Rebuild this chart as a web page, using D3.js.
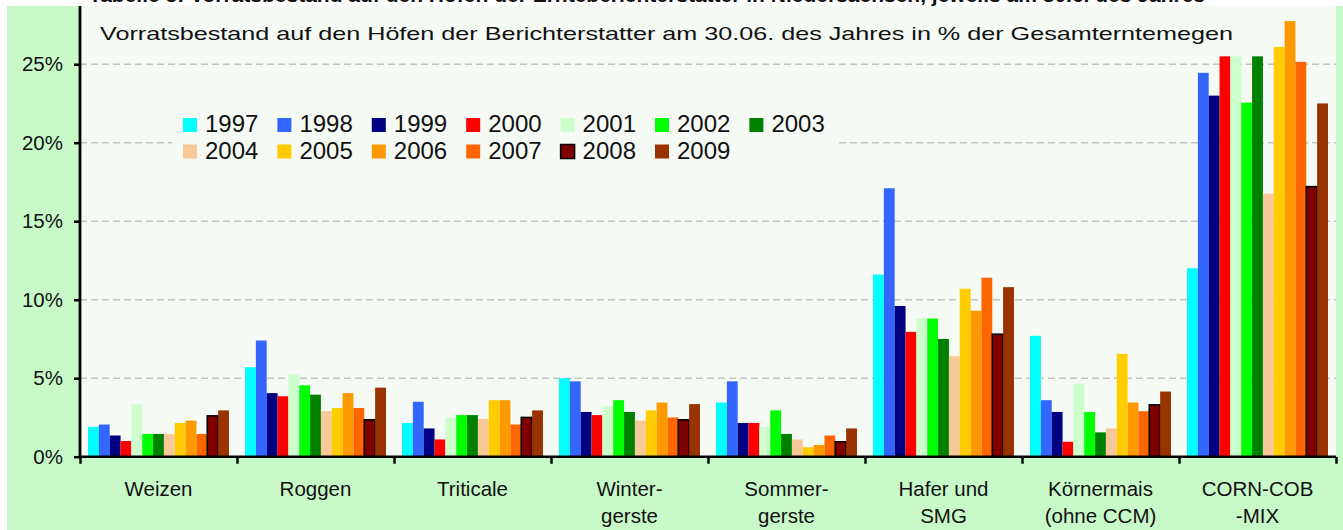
<!DOCTYPE html>
<html lang="de">
  <head>
    <meta charset="UTF-8" />
    <title>Vorratsbestand</title>
    <style>
      body { margin: 0; background: #fff; }
      text { font-family: "Liberation Sans", Arial, sans-serif; fill: #111; }
      .grid-line { stroke: #c4c4c4; stroke-width: 1.5px; stroke-dasharray: 7,4; }
      .axis path, .axis line { stroke: #000; }
    </style>
  </head>
  <body>
    <script src="https://cdn.jsdelivr.net/npm/d3@7/dist/d3.min.js"></script>
    <script>

      // Data...

      var categories = [
        ["Weizen"], ["Roggen"], ["Triticale"], ["Winter-", "gerste"],
        ["Sommer-", "gerste"], ["Hafer und", "SMG"], ["Körnermais", "(ohne CCM)"],
        ["CORN-COB", "-MIX"]
      ];

      var years = ["1997", "1998", "1999", "2000", "2001", "2002", "2003",
                   "2004", "2005", "2006", "2007", "2008", "2009"];

      var colors = ["#00ffff", "#3366ff", "#000080", "#ff0000", "#ccffcc", "#00ff00", "#008000",
                    "#f8c898", "#ffcc00", "#ff9900", "#ff6600", "#800000", "#993300"];

      // one array per year, values in percent, same order as categories
      var v1997 = [1.9, 5.7, 2.15, 5.0, 3.45, 11.6, 7.7, 12.0];
      var v1998 = [2.05, 7.4, 3.5, 4.8, 4.8, 17.1, 3.6, 24.45];
      var v1999 = [1.35, 4.05, 1.8, 2.85, 2.15, 9.6, 2.85, 23.0];
      var v2000 = [1.0, 3.85, 1.1, 2.65, 2.15, 7.95, 0.95, 25.5];
      var v2001 = [3.35, 5.25, 2.5, 3.2, 1.9, 8.8, 4.65, 25.5];
      var v2002 = [1.45, 4.55, 2.65, 3.6, 2.95, 8.8, 2.85, 22.55];
      var v2003 = [1.45, 3.95, 2.65, 2.85, 1.45, 7.5, 1.55, 25.5];
      var v2004 = [1.45, 2.9, 2.4, 2.3, 1.1, 6.4, 1.8, 16.75];
      var v2005 = [2.15, 3.1, 3.6, 2.95, 0.6, 10.7, 6.55, 26.1];
      var v2006 = [2.3, 4.05, 3.6, 3.45, 0.75, 9.3, 3.45, 27.75];
      var v2007 = [1.45, 3.1, 2.05, 2.5, 1.35, 11.4, 2.9, 25.15];
      var v2008 = [2.6, 2.35, 2.5, 2.35, 0.95, 7.8, 3.3, 17.2];
      var v2009 = [2.95, 4.4, 2.95, 3.35, 1.8, 10.8, 4.15, 22.5];

      var series = [v1997, v1998, v1999, v2000, v2001, v2002, v2003,
                    v2004, v2005, v2006, v2007, v2008, v2009];

      var yTicks = [0, 5, 10, 15, 20, 25];

      var chartTitle = "Vorratsbestand auf den Höfen der Berichterstatter am 30.06. des Jahres in % der Gesamterntemegen";
      var pageTitle = "Tabelle 5: Vorratsbestand auf den Höfen der Ernteberichterstatter in Niedersachsen, jeweils am 30.6. des Jahres";


      // SVG properties...

      var w = 1343, h = 530;

      var plot = { left: 80, right: 1336, top: 6, bottom: 456.7 };

      var svg = d3.select("body").append("svg")
        .attr("width", w)
        .attr("height", h);

      // white page, green chart area, pale plot area
      svg.append("rect").attr("width", w).attr("height", h).attr("fill", "#fff");
      svg.append("rect")
        .attr("x", 7).attr("y", plot.top)
        .attr("width", w - 7).attr("height", h - plot.top)
        .attr("fill", "#c8f9c8");
      svg.append("rect")
        .attr("x", plot.left).attr("y", plot.top)
        .attr("width", plot.right - plot.left).attr("height", plot.bottom - plot.top)
        .attr("fill", "#f5faf5");

      // the heading above the chart, cut by the top edge as in the source
      svg.append("text")
        .attr("x", 1205).attr("y", 2)
        .attr("text-anchor", "end")
        .style("font-size", "21px")
        .style("font-weight", "bold")
        .text(pageTitle);


      // Scales...

      var xScale = d3.scaleBand()
        .domain(d3.range(categories.length))
        .range([plot.left, plot.right]);

      var xInner = d3.scaleBand()
        .domain(years)
        .range([0, xScale.bandwidth()])
        .paddingInner(0)
        .paddingOuter(0.74);

      // the axis runs past the top of the picture (up to 30 %)
      var yScale = d3.scaleLinear()
        .domain([0, 30])
        .range([plot.bottom, plot.bottom - 30 * 15.7]);


      // Gridlines...

      svg.append("g")
        .selectAll("line")
        .data(yTicks.slice(1))
        .enter()
        .append("line")
        .attr("class", "grid-line")
        .attr("x1", plot.left)
        .attr("x2", plot.right)
        .attr("y1", function(d) { return yScale(d); })
        .attr("y2", function(d) { return yScale(d); });


      // Legend box covers the gridline behind it
      var legend = svg.append("g");

      legend.append("rect")
        .attr("x", 172).attr("y", 110)
        .attr("width", 666).attr("height", 54)
        .attr("fill", "#f5faf5");

      var legendItem = legend.selectAll("g")
        .data(years)
        .enter()
        .append("g")
        .attr("transform", function(d, i) {
          return "translate(" + (183 + (i % 7) * 94.4) + "," + (118 + Math.floor(i / 7) * 26.5) + ")";
        });

      legendItem.append("rect")
        .attr("width", 14).attr("height", 14)
        .attr("fill", function(d, i) { return colors[i]; })
        .attr("stroke", function(d, i) { return years[i] === "2008" ? "#000" : "none"; })
        .attr("stroke-width", 1.5);

      legendItem.append("text")
        .attr("x", 22).attr("y", 14)
        .style("font-size", "24px")
        .text(function(d) { return d; });


      // Bars...

      var groups = svg.append("g")
        .selectAll("g")
        .data(series)
        .enter()
        .append("g")
        .attr("fill", function(d, i) { return colors[i]; });

      groups.selectAll("rect")
        .data(function(d, i) {
          return d.map(function(v, c) { return { cat: c, year: years[i], value: v }; });
        })
        .enter()
        .append("rect")
        .attr("x", function(d) { return xScale(d.cat) + xInner(d.year); })
        .attr("y", function(d) { return yScale(d.value); })
        .attr("width", xInner.bandwidth())
        .attr("height", function(d) { return yScale(0) - yScale(d.value); })
        .attr("stroke", function(d) { return d.year === "2008" ? "#000" : "none"; })
        .attr("stroke-width", 1.6);


      // Axes...

      var yAxis = d3.axisLeft(yScale)
        .tickValues(yTicks)
        .tickSize(6)
        .tickPadding(11)
        .tickFormat(function(d) { return d + "%"; });

      var yG = svg.append("g")
        .attr("class", "axis")
        .attr("transform", "translate(" + plot.left + ",0)")
        .call(yAxis);

      yG.select(".domain").remove();
      yG.selectAll("line").attr("stroke-width", 2.5);
      yG.selectAll("text")
        .style("font-size", "20.5px")
        .style("font-family", "'Liberation Sans', Arial, sans-serif")
        .attr("fill", "#111");

      svg.append("line")
        .attr("x1", plot.left).attr("x2", plot.left)
        .attr("y1", plot.top).attr("y2", plot.bottom + 1)
        .attr("stroke", "#000")
        .attr("stroke-width", 2.8);

      // x axis: ticks sit on the category borders
      var xAxis = d3.axisBottom(d3.scaleLinear().domain([0, 8]).range([plot.left, plot.right]))
        .tickValues(d3.range(9))
        .tickSize(7)
        .tickFormat("");

      var xG = svg.append("g")
        .attr("class", "axis")
        .attr("transform", "translate(0," + plot.bottom + ")")
        .call(xAxis);

      xG.select(".domain").remove();
      xG.selectAll("line").attr("stroke-width", 2.5);

      svg.append("line")
        .attr("x1", plot.left).attr("x2", plot.right)
        .attr("y1", plot.bottom).attr("y2", plot.bottom)
        .attr("stroke", "#000")
        .attr("stroke-width", 2.5);

      // category labels, one or two lines
      var labels = svg.append("g")
        .selectAll("text")
        .data(categories)
        .enter()
        .append("text")
        .attr("text-anchor", "middle")
        .style("font-size", "20.5px")
        .attr("transform", function(d, i) {
          return "translate(" + (xScale(i) + xScale.bandwidth() / 2) + ",495.5)";
        });

      labels.selectAll("tspan")
        .data(function(d) { return d; })
        .enter()
        .append("tspan")
        .attr("x", 0)
        .attr("dy", function(d, i) { return i === 0 ? 0 : 27; })
        .text(function(d) { return d; });


      // Title inside the plot
      svg.append("text")
        .attr("x", 100).attr("y", 39.5)
        .attr("textLength", 1133)
        .attr("lengthAdjust", "spacingAndGlyphs")
        .style("font-size", "18.5px")
        .text(chartTitle);

      // pale strip on the right edge
      svg.append("rect")
        .attr("x", plot.right).attr("y", plot.top)
        .attr("width", w - plot.right).attr("height", plot.bottom - plot.top)
        .attr("fill", "#c8f9c8");

    </script>
  </body>
</html>
